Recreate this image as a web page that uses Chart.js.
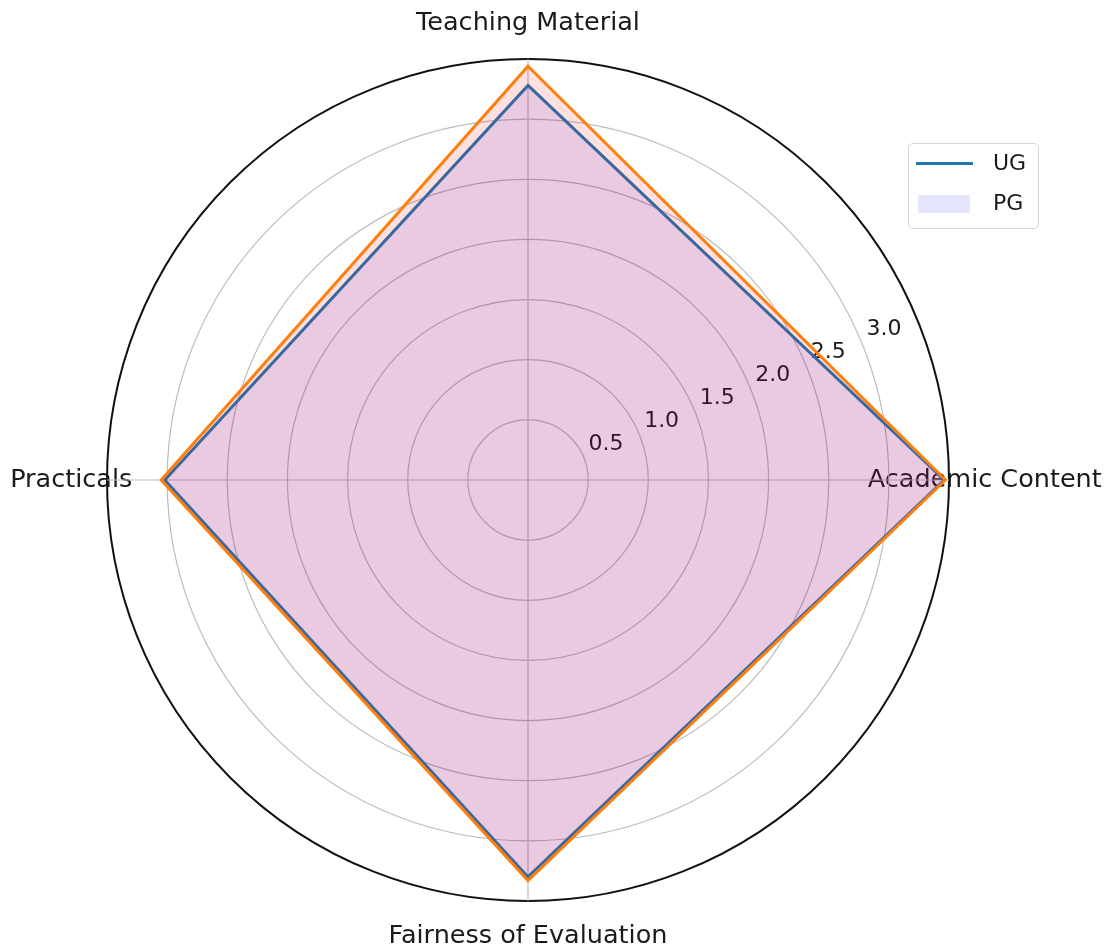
<!DOCTYPE html>
<html>
<head>
<meta charset="utf-8">
<title>UG vs PG</title>
<script src="https://cdn.jsdelivr.net/npm/chart.js@4.4.1/dist/chart.umd.min.js"></script>
<style>
  body { margin: 0; background: #fff; font-family: 'DejaVu Sans', sans-serif; }
  #wrap { position: relative; width: 1116px; height: 950px; }
  .legend {
    position: absolute; left: 908px; top: 143px; width: 131px; height: 86px;
    box-sizing: border-box; border: 1px solid #d6d6d6; border-radius: 5px;
    background: rgba(255,255,255,0.8); font-size: 22px; color: #1a1a1a;
  }
  .legend .row { position: absolute; left: 0; height: 30px; width: 100%; }
  .legend .line { position: absolute; left: 7px; top: 13px; width: 57px; height: 3px; background: #1f77b4; }
  .legend .patch { position: absolute; left: 9px; top: 6px; width: 52px; height: 18px; background: rgba(0,0,255,0.1); }
  .legend .lbl { position: absolute; left: 84px; top: 1px; }
</style>
</head>
<body>
<div id="wrap">
  <canvas id="radar"></canvas>
  <div class="legend">
    <div class="row" style="top:5px"><span class="line"></span><span class="lbl">UG</span></div>
    <div class="row" style="top:45px"><span class="patch"></span><span class="lbl">PG</span></div>
  </div>
</div>
<script>
const categories = ['Teaching Material', 'Academic Content', 'Fairness of Evaluation', 'Practicals'];
const ugScores = [3.28, 3.46, 3.30, 3.02];
const pgScores = [3.44, 3.47, 3.33, 3.05];
const rTicks = [0.5, 1.0, 1.5, 2.0, 2.5, 3.0];
const rMax = 3.5;

// labels go under the grid and the lines, like in the original
const labelsPlugin = {
    id: 'polarLabels',
    beforeDraw(chart) {
        const scale = chart.scales.r;
        const ctx = chart.ctx;
        ctx.save();
        ctx.fillStyle = '#1a1a1a';
        ctx.font = '25.5px "DejaVu Sans"';
        ctx.textAlign = 'center';
        ctx.textBaseline = 'middle';
        categories.forEach((name, i) => {
            const p = scale.getPointPosition(i, scale.drawingArea * 1.085);
            ctx.fillText(name, p.x, p.y);
        });
        // radial tick labels at 22.5 degrees, as matplotlib does
        ctx.font = '22px "DejaVu Sans"';
        ctx.textAlign = 'left';
        ctx.textBaseline = 'bottom';
        const ang = 22.5 * Math.PI / 180;
        rTicks.forEach(v => {
            const d = scale.getDistanceFromCenterForValue(v);
            const x = scale.xCenter + d * Math.cos(ang);
            const y = scale.yCenter - d * Math.sin(ang);
            ctx.fillText(v.toFixed(1), x + 5, y - 2);
        });
        ctx.restore();
    }
};

new Chart(document.getElementById('radar'), {
    type: 'radar',
    data: {
        labels: categories,
        datasets: [
            {
                label: 'UG',
                data: ugScores,
                borderColor: '#1f77b4',
                backgroundColor: 'rgba(0,0,255,0.1)',
                borderWidth: 3,
                fill: true,
                pointRadius: 0,
                order: 2
            },
            {
                label: 'PG',
                data: pgScores,
                borderColor: '#ff7f0e',
                backgroundColor: 'rgba(255,0,0,0.12)',
                borderWidth: 3,
                fill: true,
                pointRadius: 0,
                order: 1
            }
        ]
    },
    options: {
        responsive: true,
        maintainAspectRatio: false,
        animation: false,
        layout: { padding: { left: 107, right: 167, top: 59, bottom: 49 } },
        elements: { line: { tension: 0 } },
        plugins: { legend: { display: false }, tooltip: { enabled: false } },
        scales: {
            r: {
                min: 0,
                max: rMax,
                ticks: { display: false, stepSize: 0.5 },
                pointLabels: { display: false },
                grid: {
                    circular: true,
                    color: ctx => ctx.tick && ctx.tick.value === rMax ? '#111' : '#bdbdbd',
                    lineWidth: ctx => ctx.tick && ctx.tick.value === rMax ? 2 : 1.2
                },
                angleLines: { color: '#bdbdbd', lineWidth: 1.2 }
            }
        }
    },
    plugins: [labelsPlugin]
});
</script>
</body>
</html>
